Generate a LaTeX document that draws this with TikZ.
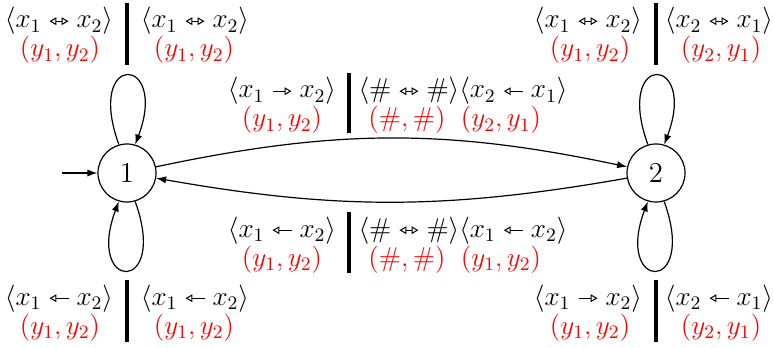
\RequirePackage{fix-cm}
\documentclass[tikz,border=0pt]{standalone}
\usetikzlibrary{arrows.meta}
\newcommand\mkarr[1]{\mathrel{\tikz[baseline=-0.25em]\draw[line width=0.5pt,#1] (0pt,0pt)--(9.5pt,0pt);}}
\newcommand\aLR{\mkarr{{Triangle[open,length=3.4pt,width=3.8pt]}-{Triangle[open,length=3.4pt,width=3.8pt]}}}
\newcommand\aL{\mkarr{{Triangle[open,length=3.4pt,width=3.8pt]}-}}
\newcommand\aR{\mkarr{-{Triangle[open,length=3.4pt,width=3.8pt]}}}
\tikzset{
  blk/.style={anchor=base,inner sep=0pt,font=\fontsize{13.6}{16}\selectfont},
  rd/.style={blk,text=red},
  sep/.style={line width=1.6pt},
  st/.style={circle,draw,line width=0.6pt,minimum size=29pt,inner sep=0pt,font=\fontsize{14.4}{17}\selectfont},
  conn/.style={line width=0.6pt,-{Latex[length=5pt,width=3.6pt]}},
}
\begin{document}
\begin{tikzpicture}[x=0.5pt,y=-0.5pt]
\useasboundingbox (0,0) rectangle (774,347);
% states
\node[st] (n1) at (127,173) {1};
\node[st] (n2) at (656,173) {2};
\coordinate (init) at (62,173);
\draw[conn] (init) -- (n1);
\draw[conn] (n1.106) .. controls +(-34,-94) and +(34,-90) .. (n1.74);
\draw[conn] (n1.-74) .. controls +(34,94) and +(-34,90) .. (n1.-106);
\draw[conn] (n2.106) .. controls +(-34,-94) and +(34,-90) .. (n2.74);
\draw[conn] (n2.-74) .. controls +(34,94) and +(-34,90) .. (n2.-106);
\draw[conn] (n1) to[bend left=12] (n2);
\draw[conn] (n2) to[bend left=10] (n1);
% top-left
\node[blk] (tl1) at (59,28) {$\langle x_1\aLR x_2\rangle$};
\node[rd] (tl2) at (60,57) {$(y_1,y_2)$};
\node[blk] (tl3) at (195,28) {$\langle x_1\aLR x_2\rangle$};
\node[rd] (tl4) at (194,57) {$(y_1,y_2)$};
\draw[sep] (127,3) -- (127,65);
% top-right
\node[blk] (tr1) at (588,28) {$\langle x_1\aLR x_2\rangle$};
\node[rd] (tr2) at (590,57) {$(y_1,y_2)$};
\node[blk] (tr3) at (719,28) {$\langle x_2\aLR x_1\rangle$};
\node[rd] (tr4) at (721,57) {$(y_2,y_1)$};
\draw[sep] (656,3) -- (656,65);
% top-middle
\node[blk] (tm1) at (282,98) {$\langle x_1\aR x_2\rangle$};
\node[rd] (tm2) at (282,127) {$(y_1,y_2)$};
\node[blk] (tm3) at (463,98) {$\langle \#\aLR\#\rangle\langle x_2\aL x_1\rangle$};
\node[rd] (tm5) at (407,127) {$(\#,\#)$};
\node[rd] (tm6) at (501,127) {$(y_2,y_1)$};
\draw[sep] (349,73) -- (349,133);
% bottom-middle
\node[blk] (bm1) at (282,237) {$\langle x_1\aL x_2\rangle$};
\node[rd] (bm2) at (282,266) {$(y_1,y_2)$};
\node[blk] (bm3) at (463,237) {$\langle \#\aLR\#\rangle\langle x_1\aL x_2\rangle$};
\node[rd] (bm5) at (407,266) {$(\#,\#)$};
\node[rd] (bm6) at (501,266) {$(y_1,y_2)$};
\draw[sep] (349,212) -- (349,273);
% bottom-left
\node[blk] (bl1) at (59,305) {$\langle x_1\aL x_2\rangle$};
\node[rd] (bl2) at (60,334) {$(y_1,y_2)$};
\node[blk] (bl3) at (195,305) {$\langle x_1\aL x_2\rangle$};
\node[rd] (bl4) at (194,334) {$(y_1,y_2)$};
\draw[sep] (127,280) -- (127,342);
% bottom-right
\node[blk] (br1) at (588,305) {$\langle x_1\aR x_2\rangle$};
\node[rd] (br2) at (590,334) {$(y_1,y_2)$};
\node[blk] (br3) at (719,305) {$\langle x_2\aL x_1\rangle$};
\node[rd] (br4) at (721,334) {$(y_2,y_1)$};
\draw[sep] (656,280) -- (656,342);
\end{tikzpicture}
\end{document}
